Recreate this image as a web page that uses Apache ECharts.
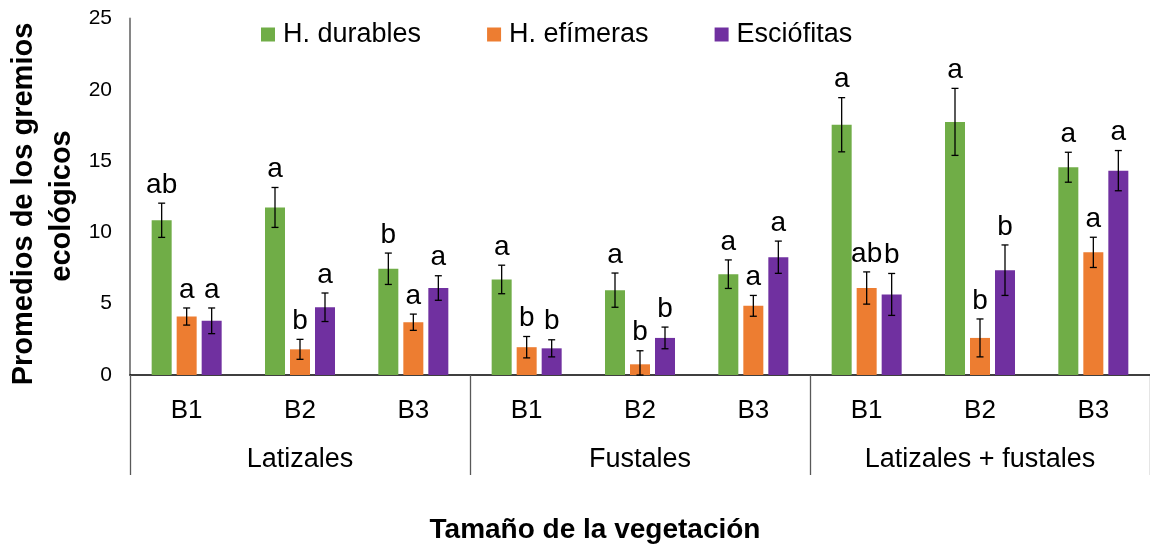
<!DOCTYPE html>
<html>
<head>
<meta charset="utf-8">
<script src="https://cdn.jsdelivr.net/npm/echarts@6/dist/echarts.min.js"></script>
<style>
  html, body { margin: 0; padding: 0; background: #fff; }
  #chart { width: 1150px; height: 544px; }
</style>
</head>
<body>
<div id="chart"></div>
<script>
var categorias = ['B1', 'B2', 'B3', 'B1', 'B2', 'B3', 'B1', 'B2', 'B3'];
var grupos = ['Latizales', 'Fustales', 'Latizales + fustales'];
var nombres = ['H. durables', 'H. efímeras', 'Esciófitas'];

var durables = [10.85, 11.75, 7.45, 6.7, 5.95, 7.07, 17.55, 17.75, 14.57];
var durablesErr = [1.2, 1.4, 1.1, 1.0, 1.2, 1.0, 1.9, 2.35, 1.05];
var durablesSig = ['ab', 'a', 'b', 'a', 'a', 'a', 'a', 'a', 'a'];

var efimeras = [4.1, 1.8, 3.7, 1.95, 0.75, 4.85, 6.1, 2.6, 8.6];
var efimerasErr = [0.6, 0.7, 0.57, 0.75, 0.95, 0.73, 1.13, 1.33, 1.06];
var efimerasSig = ['a', 'b', 'a', 'b', 'b', 'a', 'ab', 'b', 'a'];

var esciofitas = [3.8, 4.75, 6.1, 1.87, 2.6, 8.26, 5.65, 7.35, 14.33];
var esciofitasErr = [0.9, 1.0, 0.86, 0.6, 0.76, 1.13, 1.47, 1.77, 1.41];
var esciofitasSig = ['a', 'a', 'a', 'b', 'b', 'a', 'b', 'b', 'a'];

var yTicks = [0, 5, 10, 15, 20, 25];

var colores = ['#70AD47', '#ED7D31', '#7030A0'];
var fuente = 'Liberation Sans, Arial, sans-serif';
var anchoBarra = 20, paso = 25;

var chart = echarts.init(document.getElementById('chart'));

function barra(i, datos) {
  return {
    name: nombres[i],
    type: 'bar',
    data: datos,
    barWidth: anchoBarra,
    barGap: '25%',
    itemStyle: { color: colores[i] }
  };
}

// barras de error + letras de significancia
function errores(i, datos, err, sig) {
  return {
    type: 'custom',
    name: nombres[i] + ' err',
    z: 10,
    data: datos.map(function (v, k) { return [k, v]; }),
    renderItem: function (params, api) {
      var k = api.value(0), v = api.value(1), e = err[params.dataIndex];
      var dx = (i - 1) * paso;
      var hi = api.coord([k, v + e]);
      var lo = api.coord([k, Math.max(0, v - e)]);
      var x = hi[0] + dx, c = 3.5;
      var st = { stroke: '#000', lineWidth: 1.3 };
      return {
        type: 'group',
        children: [
          { type: 'line', shape: { x1: x, y1: hi[1], x2: x, y2: lo[1] }, style: st },
          { type: 'line', shape: { x1: x - c, y1: hi[1], x2: x + c, y2: hi[1] }, style: st },
          { type: 'line', shape: { x1: x - c, y1: lo[1], x2: x + c, y2: lo[1] }, style: st },
          { type: 'text', style: {
              x: x, y: hi[1] - 4, text: sig[params.dataIndex],
              font: '28px ' + fuente, fill: '#000',
              textAlign: 'center', textVerticalAlign: 'bottom'
          } }
        ]
      };
    }
  };
}

var option = {
  animation: false,
  textStyle: { fontFamily: fuente },
  legend: {
    data: nombres,
    left: 261,
    top: 21,
    padding: 0,
    icon: 'rect',
    itemWidth: 14,
    itemHeight: 14,
    itemGap: 66,
    textStyle: { fontSize: 27, color: '#000', fontFamily: fuente, padding: [0, 0, 0, 3] }
  },
  grid: { left: 130, right: -7, top: 18.5, bottom: 169, containLabel: false },
  xAxis: [
    {
      type: 'category',
      data: categorias,
      position: 'bottom',
      axisLine: { lineStyle: { color: '#000', width: 1.5 } },
      axisTick: { show: false },
      axisLabel: { fontSize: 26, color: '#000', margin: 23, fontFamily: fuente }
    },
    {
      type: 'category',
      data: grupos,
      position: 'bottom',
      axisLine: { show: false },
      axisTick: { show: true, length: 100, interval: 0, lineStyle: { color: '#595959', width: 1.3 } },
      axisLabel: { fontSize: 27, color: '#000', margin: 71, interval: 0, fontFamily: fuente }
    }
  ],
  yAxis: {
    type: 'value',
    min: yTicks[0],
    max: yTicks[yTicks.length - 1],
    interval: 5,
    axisLine: { show: true, lineStyle: { color: '#868686', width: 2 } },
    axisTick: { show: false },
    splitLine: { show: false },
    axisLabel: { fontSize: 21, color: '#000', margin: 18, fontFamily: fuente }
  },
  graphic: [
    { type: 'text', x: 24, y: 204, rotation: Math.PI / 2,
      style: { text: 'Promedios de los gremios', font: 'bold 29px ' + fuente, fill: '#000',
               textAlign: 'center', textVerticalAlign: 'middle' } },
    { type: 'text', x: 62, y: 206, rotation: Math.PI / 2,
      style: { text: 'ecológicos', font: 'bold 29px ' + fuente, fill: '#000',
               textAlign: 'center', textVerticalAlign: 'middle' } },
    { type: 'text', x: 595, y: 530,
      style: { text: 'Tamaño de la vegetación', font: 'bold 28px ' + fuente, fill: '#000',
               textAlign: 'center', textVerticalAlign: 'middle' } }
  ],
  series: [
    barra(0, durables),
    barra(1, efimeras),
    barra(2, esciofitas),
    errores(0, durables, durablesErr, durablesSig),
    errores(1, efimeras, efimerasErr, efimerasSig),
    errores(2, esciofitas, esciofitasErr, esciofitasSig)
  ]
};

chart.setOption(option);
</script>
</body>
</html>
